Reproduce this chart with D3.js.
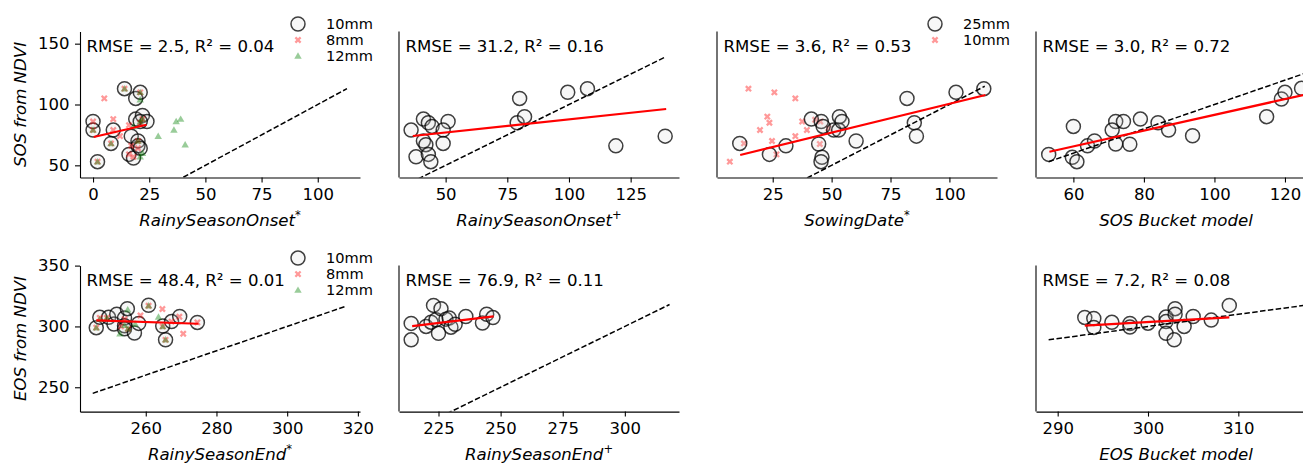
<!DOCTYPE html>
<html><head><meta charset="utf-8">
<script src="https://cdn.jsdelivr.net/npm/d3@7"></script>
<style>body{margin:0;background:#fff}svg{display:block}</style>
</head><body><svg id="c" width="1303" height="464"></svg>
<script>
// ---------------- DATA ----------------
// Row 1: SOS from NDVI
const p1_10mm = [[0,86],[0,79],[2,53],[8,68],[9,79],[14,113],[17,74],[16,59],[18,56],[19,105],[21,110],[19,88],[22,91],[24,86],[21,86],[20,70],[20,66],[21,64]];
const p1_8mm  = [[0,86],[0,79],[2,53],[5,105],[8,68],[9,88],[9,79],[12,74],[14,113],[16,83],[16,59],[17,66],[18,57],[20,70],[21,110],[22,88],[21,85],[20,64]];
const p1_12mm = [[0,79],[2,53],[8,68],[14,113],[21,110],[21,104],[22,88],[21,86],[20,70],[22,60],[21,57],[29,74],[36,79],[37,86],[39,88],[41,67],[18,82]];
const p2_pts  = [[36,79],[41,88],[43,85],[44.5,82],[51,86],[49,79],[41,70],[42,67],[49,68],[38,57],[43,59],[44,53],[80,105],[79,85],[82,90],[99.5,110],[107.5,113],[119,66],[139,74]];
const p3_25mm = [[11,68],[23.6,59],[30.6,66],[41.4,88],[45.6,86],[46.4,82],[44.5,67.5],[45.9,56.6],[45.5,53],[50.9,79],[53,79],[53.3,90],[54.4,86],[60.4,70],[82,105],[85.1,85],[86,74],[102.8,110],[114.6,113]];
const p3_10mm = [[6.8,53],[12.8,68],[14.7,113],[19.6,79],[22.7,90],[23.6,85],[24.7,70],[25.7,110],[26.6,59],[34.6,105],[34.6,74],[37.5,86],[39.5,79],[43,87.5],[45.2,86],[45,67.5],[48.6,80.5]];
const p4_pts  = [[53,59],[60,82],[59.7,56.6],[61,53],[64,66],[66,70],[72,86],[74.2,86],[71,79],[72,67.5],[76,67.3],[79,88],[84,85],[87,79],[93.8,74.3],[114.8,90],[119,104.5],[120,110],[124.7,113.3]];
// Row 2: EOS from NDVI
const p5_10mm = [[246,299],[247,307.5],[249.5,307.5],[251,302],[251.8,310],[254,307],[254,300.5],[254.8,314.6],[254,298],[256.8,294.6],[258,302.5],[260.8,317.4],[264.8,300.3],[265.6,289],[267.3,304],[269.6,308.2],[274.6,303.3]];
const p5_8mm  = [[246,299],[247,307],[249,307],[253,300],[254,306],[258.5,309],[260.8,317],[264.7,314.3],[264.8,300],[265.6,289],[267.3,304],[269.5,308],[270.6,294],[274.6,303.3],[255,298]];
const p5_12mm = [[246,299],[247,306],[249,307],[252.7,294],[254.9,313.7],[254,301],[255,298],[257,302],[260.8,317],[263.6,307.7],[264.8,300],[265.6,289]];
const p6_pts  = [[214,302.5],[214,289],[220,300],[222,303.5],[223,317.3],[224,305.5],[226,314.5],[225,294.4],[228,306],[229.3,306.9],[230,299.4],[231.7,301.7],[236,308.2],[242.7,302.8],[244.4,310],[246.9,307.3]];
const p8_pts  = [[293,307.4],[294,306.6],[294,299.2],[296,303.4],[298,302.4],[298,299.5],[300,302.7],[302,307.7],[302,304],[302,294.3],[303,314.6],[303,310],[302.9,289],[304,300],[305,308.2],[307,305.2],[309,317.3]];

// regression (red) lines, endpoints
const fit1 = [[0.3,73.3],[23.8,83.4]];
const fit2 = [[36.7,74.1],[139.4,96.3]];
const fit3 = [[11.2,58.5],[115.3,107.8]];
const fit4 = [[53.2,61.2],[125.2,107.8]];
const fit5 = [[246,304.9],[274.9,302.2]];
const fit6 = [[214.4,300.3],[247.2,308.2]];
const fit8 = [[293,300.6],[309,307.4]];
// 1:1 line extents
const one1 = [0,113], one2 = [36,139.3], one3 = [6.8,115], one4 = [53,125.5];
const one5 = [245,316.3], one6 = [214,318], one8 = [289,317.2];

const statsText = ["RMSE = 2.5, R\u00B2 = 0.04","RMSE = 31.2, R\u00B2 = 0.16","RMSE = 3.6, R\u00B2 = 0.53","RMSE = 3.0, R\u00B2 = 0.72",
                   "RMSE = 48.4, R\u00B2 = 0.01","RMSE = 76.9, R\u00B2 = 0.11","RMSE = 7.2, R\u00B2 = 0.08"];
const xLabels = [["RainySeasonOnset","*"],["RainySeasonOnset","+"],["SowingDate","*"],["SOS Bucket model",""],
                 ["RainySeasonEnd","*"],["RainySeasonEnd","+"],["EOS Bucket model",""]];
const yLabels = ["SOS from NDVI","EOS from NDVI"];
const xt1=[0,25,50,75,100], xt2=[50,75,100,125], xt3=[25,50,75,100], xt4=[60,80,100,120];
const xt5=[260,280,300,320], xt6=[225,250,275,300], xt8=[290,300,310];
const yt1=[50,100,150], yt2=[250,300,350];
const legend1 = ["10mm","8mm","12mm"], legend3 = ["25mm","10mm"];

// ---------------- LAYOUT ----------------
const colLeft=[80,399,717,1036], axW=280;
const rowTop=[31.5,265.6], axH=146;
const yDom=[[40,160],[230,350]];
const FONT='"DejaVu Sans", Verdana, sans-serif';

const panels = [
 {c:0,r:0,xd:[-5.8,118.8],xt:xt1,series:[["o",p1_10mm],["x",p1_8mm],["t",p1_12mm]],fit:fit1,one:one1,st:0,lab:0,leg:[["o",legend1[0]],["x",legend1[1]],["t",legend1[2]]]},
 {c:1,r:0,xd:[31.1,144.6],xt:xt2,series:[["o",p2_pts]],fit:fit2,one:one2,st:1,lab:1},
 {c:2,r:0,xd:[1.35,120.2],xt:xt3,series:[["x",p3_10mm],["o",p3_25mm]],fit:fit3,one:one3,st:2,lab:2,leg:[["o",legend3[0]],["x",legend3[1]]]},
 {c:3,r:0,xd:[49.4,128.8],xt:xt4,series:[["o",p4_pts]],fit:fit4,one:one4,st:3,lab:3},
 {c:0,r:1,xd:[241.4,320.6],xt:xt5,series:[["o",p5_10mm],["x",p5_8mm],["t",p5_12mm]],fit:fit5,one:one5,st:4,lab:4,leg:[["o",legend1[0]],["x",legend1[1]],["t",legend1[2]]]},
 {c:1,r:1,xd:[209.1,321.8],xt:xt6,series:[["o",p6_pts]],fit:fit6,one:one6,st:5,lab:5},
 {c:3,r:1,xd:[287.6,318.6],xt:xt8,series:[["o",p8_pts]],fit:fit8,one:one8,st:6,lab:6}
];

const svg=d3.select("#c").style("font-family",FONT);
svg.append("rect").attr("width",1303).attr("height",464).attr("fill","#fff");

// marker drawing
const L=3.7,T=1.15;
const plusPts=[[-T,-L],[T,-L],[T,-T],[L,-T],[L,T],[T,T],[T,L],[-T,L],[-T,T],[-L,T],[-L,-T],[-T,-T]];
const xPath="M"+plusPts.map(p=>p.join(",")).join("L")+"Z";
const triPath=d3.symbol(d3.symbolTriangle,24)();
function drawMarker(g,type,cx,cy){
  if(type==="o"){
    g.append("circle").attr("cx",cx).attr("cy",cy).attr("r",7)
     .attr("fill","#d3d3d3").attr("fill-opacity",0.18)
     .attr("stroke","#000").attr("stroke-opacity",0.75).attr("stroke-width",1.5);
  } else if(type==="x"){
    g.append("path").attr("d",xPath).attr("transform",`translate(${cx},${cy}) rotate(45)`)
     .attr("fill","#ff0000").attr("fill-opacity",0.4);
  } else {
    g.append("path").attr("d",triPath).attr("transform",`translate(${cx},${cy+0.6})`)
     .attr("fill","#008000").attr("fill-opacity",0.4);
  }
}

panels.forEach((p,i)=>{
  const x0=colLeft[p.c], y0=rowTop[p.r];
  const x=d3.scaleLinear().domain(p.xd).range([x0,x0+axW]);
  const y=d3.scaleLinear().domain(yDom[p.r]).range([y0+axH,y0]);
  const g=svg.append("g");
  const cid="clip"+i;
  svg.append("clipPath").attr("id",cid).append("rect").attr("x",x0).attr("y",y0).attr("width",axW).attr("height",axH);
  const pg=g.append("g").attr("clip-path",`url(#${cid})`);
  p.series.forEach(([type,data])=>{
    data.forEach(d=>drawMarker(pg,type,x(d[0]),y(d[1])));
  });
  // 1:1 line
  pg.append("line").attr("x1",x(p.one[0])).attr("y1",y(p.one[0])).attr("x2",x(p.one[1])).attr("y2",y(p.one[1]))
    .attr("stroke","#000").attr("stroke-width",1.5).attr("stroke-dasharray","5.5,2.4");
  // fit line
  pg.append("line").attr("x1",x(p.fit[0][0])).attr("y1",y(p.fit[0][1])).attr("x2",x(p.fit[1][0])).attr("y2",y(p.fit[1][1]))
    .attr("stroke","#ff0000").attr("stroke-width",2.2);

  // x axis
  const xa=g.append("g").attr("transform",`translate(0,${y0+axH})`)
    .call(d3.axisBottom(x).tickValues(p.xt).tickSize(5).tickPadding(5.5).tickSizeOuter(0));
  xa.select(".domain").attr("stroke","#000").attr("stroke-width",1.1);
  xa.selectAll(".tick line").attr("stroke","#000").attr("stroke-width",1.1);
  xa.selectAll(".tick text").attr("font-size","16.5px").attr("font-family",FONT).attr("fill","#000");
  // y axis
  if(p.c===0){
    const ya=g.append("g").attr("transform",`translate(${x0},0)`)
      .call(d3.axisLeft(y).tickValues(p.r===0?yt1:yt2).tickSize(5).tickPadding(5.5).tickSizeOuter(0));
    ya.select(".domain").attr("stroke","#000").attr("stroke-width",1.1);
    ya.selectAll(".tick line").attr("stroke","#000").attr("stroke-width",1.1);
    ya.selectAll(".tick text").attr("font-size","16.5px").attr("font-family",FONT).attr("fill","#000");
    g.append("text").attr("transform",`translate(26,${y0+axH/2}) rotate(-90)`)
     .attr("text-anchor","middle").attr("font-size","16.6px").attr("font-style","italic").text(yLabels[p.r]);
  } else {
    g.append("line").attr("x1",x0).attr("x2",x0).attr("y1",y0).attr("y2",y0+axH).attr("stroke","#000").attr("stroke-width",1.1);
  }
  // x label
  const lab=xLabels[p.lab];
  const t=g.append("text").attr("x",x0+axW/2).attr("y",y0+axH+48.5).attr("text-anchor","middle")
    .attr("font-size","16.6px").attr("font-style","italic");
  t.append("tspan").text(lab[0]);
  if(lab[1]) t.append("tspan").attr("dy",-7).attr("font-size","11.5px").text(lab[1]);
  // stats
  g.append("text").attr("x",x0+6.5).attr("y",y0+20.2).attr("font-size","16.6px").attr("fill","#000").text(statsText[p.st]);
  // legend
  if(p.leg){
    p.leg.forEach((e,k)=>{
      const ly=y0-7.5+16*k;
      drawMarker(g,e[0],x0+axW-62,ly);
      g.append("text").attr("x",x0+axW-34).attr("y",ly).attr("dy","0.36em").attr("font-size","14.6px").text(e[1]);
    });
  }
});
</script></body></html>
